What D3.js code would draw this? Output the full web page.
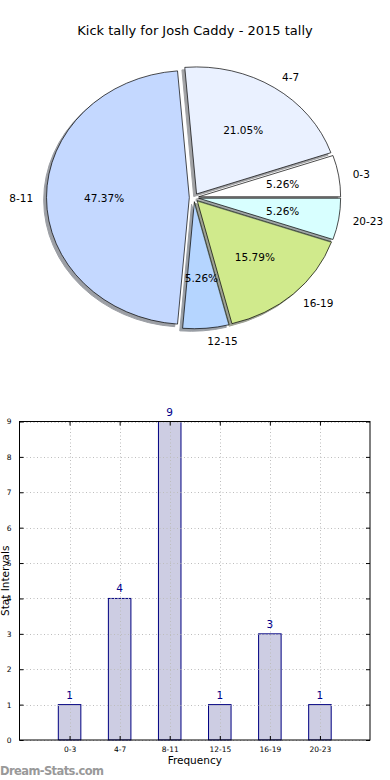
<!DOCTYPE html>
<html>
<head>
<meta charset="utf-8">
<script src="https://cdn.jsdelivr.net/npm/d3@7"></script>
<style>
  html, body { margin: 0; padding: 0; background: #fff; }
  svg { display: block; font-family: "DejaVu Sans", sans-serif; }
</style>
</head>
<body>
<svg id="chart" width="390" height="780"></svg>
<script>
// ---- data ----
const title = "Kick tally for Josh Caddy - 2015 tally";
const categories = ["0-3", "4-7", "8-11", "12-15", "16-19", "20-23"];
const values = [1, 4, 9, 1, 3, 1];
const pieColors = ["#ffffff", "#eaf1ff", "#c4d8ff", "#b5d5ff", "#d0ea8c", "#d8ffff"];
const yTicks = [0, 1, 2, 3, 4, 5, 6, 7, 8, 9];
const xLabel = "Frequency";
const yLabel = "Stat Intervals";
const watermark = "Dream-Stats.com";

const svg = d3.select("#chart");

// ---- title ----
svg.append("text").attr("x", 195).attr("y", 30).attr("text-anchor", "middle")
  .attr("dominant-baseline", "central").attr("font-size", 13).attr("fill", "#000").text(title);

// ---- pie ----
const cx = 194, cy = 197.5, rx = 142, ry = 127, explode = 0.033;
const total = d3.sum(values);
const pie = d3.pie().sort(null).startAngle(Math.PI / 2).endAngle(Math.PI / 2 - 2 * Math.PI);
const arcs = pie(values);
const arcGen = d3.arc().innerRadius(0).outerRadius(1);
const pieG = svg.append("g");

function darker(c) {
  const r = d3.rgb(c);
  return d3.rgb(r.r * 0.3, r.g * 0.3, r.b * 0.3).toString();
}

arcs.forEach((a, i) => {
  const mid = Math.PI / 2 - (a.startAngle + a.endAngle) / 2; // math angle
  const ox = explode * rx * Math.cos(mid), oy = -explode * ry * Math.sin(mid);
  pieG.append("path")
    .attr("d", arcGen(a))
    .attr("transform", `translate(${cx + ox - 0.02 * rx},${cy + oy + 0.02 * ry}) scale(${rx},${ry})`)
    .attr("fill", darker(pieColors[i])).attr("stroke", darker(pieColors[i]))
    .attr("opacity", 0.5)
    .attr("stroke-width", 1).attr("vector-effect", "non-scaling-stroke");
  pieG.append("path")
    .attr("d", arcGen(a))
    .attr("transform", `translate(${cx + ox},${cy + oy}) scale(${rx},${ry})`)
    .attr("fill", pieColors[i]).attr("stroke", "#000")
    .attr("stroke-width", 0.7).attr("vector-effect", "non-scaling-stroke");
});

arcs.forEach((a, i) => {
  const mid = Math.PI / 2 - (a.startAngle + a.endAngle) / 2;
  const ox = explode * rx * Math.cos(mid), oy = -explode * ry * Math.sin(mid);
  const px = cx + ox + 0.6 * rx * Math.cos(mid), py = cy + oy - 0.6 * ry * Math.sin(mid);
  pieG.append("text").attr("x", px).attr("y", py).attr("text-anchor", "middle")
    .attr("dominant-baseline", "central").attr("font-size", 10.5).attr("fill", "#000")
    .text((values[i] / total * 100).toFixed(2) + "%");
  const lx = cx + ox + 1.1 * rx * Math.cos(mid), ly = cy + oy - 1.1 * ry * Math.sin(mid);
  pieG.append("text").attr("x", lx).attr("y", ly)
    .attr("text-anchor", Math.cos(mid) > 0 ? "start" : "end")
    .attr("dominant-baseline", "central").attr("font-size", 10.5).attr("fill", "#000")
    .text(categories[i]);
});

// ---- bar chart ----
const pLeft = 19.5, pRight = 370, pTop = 421.5, pBottom = 740;
const x = d3.scaleLinear().domain([-1, categories.length]).range([pLeft, pRight]);
const y = d3.scaleLinear().domain([0, 9]).range([pBottom, pTop]);
const barW = x(0.45) - x(0);
const barG = svg.append("g");

barG.selectAll("rect.bar").data(values).enter().append("rect")
  .attr("class", "bar")
  .attr("x", (d, i) => x(i) - barW / 2)
  .attr("y", d => y(d))
  .attr("width", barW)
  .attr("height", d => y(0) - y(d))
  .attr("fill", "#cdcde3").attr("stroke", "#000080").attr("stroke-width", 1);

// grid
const grid = svg.append("g").attr("stroke", "#bdbdbd").attr("stroke-width", 1).attr("stroke-dasharray", "1,2.5");
yTicks.forEach(t => {
  grid.append("line").attr("x1", pLeft).attr("x2", pRight).attr("y1", Math.round(y(t)) + 0.5).attr("y2", Math.round(y(t)) + 0.5);
});
categories.forEach((c, i) => {
  grid.append("line").attr("x1", Math.round(x(i)) + 0.5).attr("x2", Math.round(x(i)) + 0.5).attr("y1", pTop).attr("y2", pBottom);
});

// axes
const xAxis = d3.axisBottom(x).tickValues(d3.range(categories.length))
  .tickFormat(i => categories[i]).tickSizeInner(-4).tickSizeOuter(0).tickPadding(7);
const gx = svg.append("g").attr("transform", `translate(0,${pBottom})`).call(xAxis);
gx.select(".domain").remove();
gx.selectAll("text").attr("font-size", 7.5).attr("font-family", "DejaVu Sans").attr("fill", "#000");

const xAxisTop = d3.axisTop(x).tickValues(d3.range(categories.length)).tickFormat("").tickSizeInner(-4).tickSizeOuter(0);
const gxt = svg.append("g").attr("transform", `translate(0,${pTop})`).call(xAxisTop);
gxt.select(".domain").remove();

const yAxis = d3.axisLeft(y).tickValues(yTicks).tickFormat(d3.format("d")).tickSizeInner(-4).tickSizeOuter(0).tickPadding(8);
const gy = svg.append("g").attr("transform", `translate(${pLeft},0)`).call(yAxis);
gy.select(".domain").remove();
gy.selectAll("text").attr("font-size", 7.5).attr("font-family", "DejaVu Sans").attr("fill", "#000");

const yAxisR = d3.axisRight(y).tickValues(yTicks).tickFormat("").tickSizeInner(-4).tickSizeOuter(0);
const gyr = svg.append("g").attr("transform", `translate(${pRight},0)`).call(yAxisR);
gyr.select(".domain").remove();

svg.append("rect").attr("x", pLeft).attr("y", pTop).attr("width", pRight - pLeft).attr("height", pBottom - pTop)
  .attr("fill", "none").attr("stroke", "#000").attr("stroke-width", 1);

// value labels (drawn above the grid)
const labelG = svg.append("g");
labelG.selectAll("text.val").data(values).enter().append("text")
  .attr("class", "val")
  .attr("x", (d, i) => x(i))
  .attr("y", d => y(d) - 6)
  .attr("text-anchor", "middle").attr("font-size", 10.5).attr("fill", "#00008b")
  .attr("stroke", "#fff").attr("stroke-width", 0).attr("paint-order", "stroke")
  .text(d => d);

// axis labels
svg.append("text").attr("x", (pLeft + pRight) / 2).attr("y", 764).attr("text-anchor", "middle")
  .attr("font-size", 10.5).attr("fill", "#000").text(xLabel);
svg.append("text").attr("transform", `translate(9,${(pTop + pBottom) / 2}) rotate(-90)`)
  .attr("text-anchor", "middle").attr("font-size", 10.5).attr("fill", "#000").text(yLabel);

// watermark
svg.append("text").attr("x", 0).attr("y", 774.5).attr("font-size", 11.5)
  .attr("fill", "#999999").attr("font-weight", "bold").attr("letter-spacing", -0.6).text(watermark);
</script>
</body>
</html>
